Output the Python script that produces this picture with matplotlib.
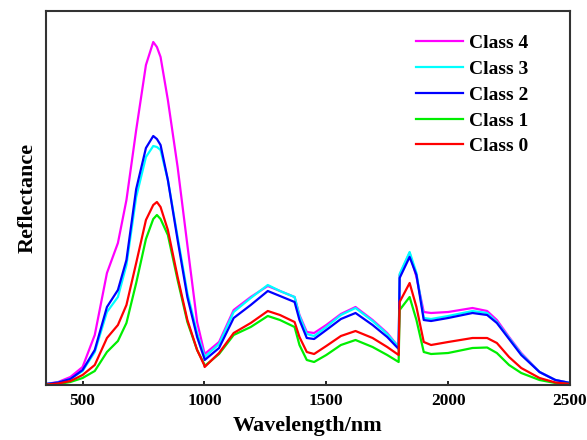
import matplotlib
matplotlib.use("Agg")
import matplotlib.pyplot as plt

# wavelength grid (nm) and mean reflectance per class (arbitrary units)
wl = [350, 400, 450, 500, 550, 600, 645, 680, 720, 760, 790, 805, 820, 850, 890, 930, 970, 999,
      1001, 1060, 1120, 1190, 1260, 1310, 1370, 1390, 1420, 1450, 1500, 1560, 1620, 1690, 1750, 1797,
      1801, 1842, 1870, 1900, 1930, 2000, 2100, 2160, 2200, 2250, 2300, 2375, 2440, 2500]

class4 = [1, 3, 8, 18, 50, 112, 142, 185, 255, 320, 343, 338, 328, 285, 218, 140, 63, 33,
          31, 43, 75, 88, 99, 94, 88, 70, 53, 52, 60, 71, 78, 65, 52, 38,
          110, 132, 108, 73, 72, 73, 77, 74, 65, 48, 32, 13, 5, 2]
class3 = [1, 2.5, 6, 14, 33, 73, 88, 120, 188, 228, 239, 238, 235, 205, 148, 92, 52, 30,
          28, 41, 73, 87, 100, 94, 88, 69, 51, 49, 58, 70, 77, 64, 51, 38,
          111, 133, 112, 67, 66, 69, 74, 72, 63, 47, 31, 13, 5, 2]
class2 = [1, 2.5, 6, 15, 35, 78, 95, 125, 196, 237, 249, 246, 240, 205, 145, 88, 48, 27,
          25, 37, 67, 80, 94, 89, 83, 65, 47, 46, 55, 66, 72, 60, 48, 36,
          107, 128, 110, 65, 64, 67, 72, 70, 62, 46, 30, 13, 5, 2]
class1 = [0.5, 1, 3, 7, 14, 33, 44, 62, 102, 146, 166, 170, 166, 150, 105, 63, 35, 21,
          19, 31, 50, 58, 69, 65, 58, 40, 25, 23, 30, 40, 45, 38, 30, 23,
          75, 88, 65, 33, 31, 32, 37, 37.5, 32, 20, 12, 5, 2, 1]
class0 = [0.5, 1.5, 4, 10, 20, 47, 60, 80, 122, 165, 180, 183, 178, 155, 108, 65, 35, 20,
          18, 32, 52, 62, 74, 70, 63, 48, 33, 31, 39, 49, 54, 47, 38, 30,
          83, 102, 78, 43, 40, 43, 47, 47, 42, 28, 17, 7, 2.5, 1]

plt.rcParams['font.family'] = ['Liberation Serif', 'DejaVu Serif']
plt.rcParams['font.weight'] = 'bold'

fig = plt.figure(figsize=(5.87, 4.40), dpi=100)
ax = fig.add_axes([0.0784, 0.125, 0.8926, 0.85])

lw = 1.6
ax.plot(wl, class4, color='#ff00ff', lw=lw, label='Class 4')
ax.plot(wl, class3, color='#00ffff', lw=lw, label='Class 3')
ax.plot(wl, class2, color='#0000ff', lw=lw, label='Class 2')
ax.plot(wl, class1, color='#00ee00', lw=lw, label='Class 1')
ax.plot(wl, class0, color='#ff0000', lw=lw, label='Class 0')

ax.set_xlim(350, 2500)
ax.set_ylim(0, 374)
ax.set_xticks([500, 1000, 1500, 2000, 2500])
ax.set_yticks([])
ax.tick_params(axis='x', direction='in', length=3, width=1.2, labelsize=12.5, pad=6)
for s in ax.spines.values():
    s.set_linewidth(1.5)
    s.set_color('#333333')

ax.set_xlabel('Wavelength/nm', fontsize=16, fontweight='bold', labelpad=5)
ax.set_ylabel('Reflectance', fontsize=16, fontweight='bold', labelpad=6)

ax.legend(loc='upper left', bbox_to_anchor=(0.687, 0.963), frameon=False,
          fontsize=14, handlelength=2.45, labelspacing=0.42, handletextpad=0.27, borderpad=0)

fig.savefig('out.png', dpi=100)
